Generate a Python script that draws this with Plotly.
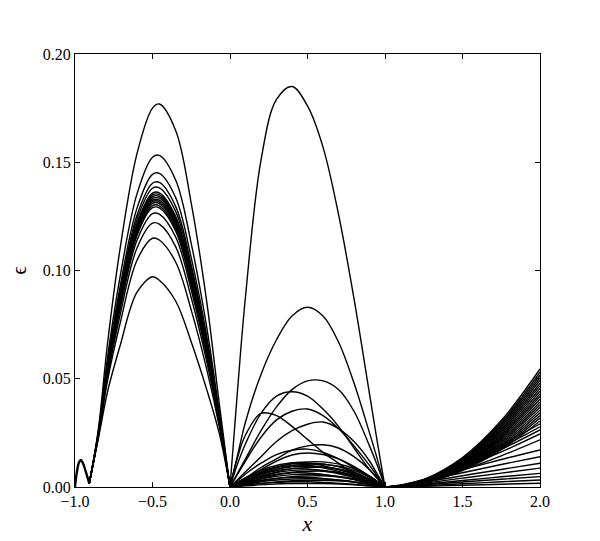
import plotly.graph_objects as go

# shared bump between x=-1 and the first node
BUMP_X = [-1.0, -0.99, -0.975, -0.963, -0.95, -0.93, -0.908]
BUMP_Y = [0.0, 0.006, 0.0112, 0.0125, 0.0112, 0.007, 0.0017]

# arcs on [-0.908, 0]
LEFT_X = [-0.908, -0.85, -0.79, -0.71, -0.6, -0.5, -0.456, -0.35, -0.25, -0.15, -0.07, 0.0]
LEFT_Y = [
    [0.0017, 0.0264, 0.0664, 0.1097, 0.1540, 0.1750, 0.1769, 0.1646, 0.1310, 0.0855, 0.0390, 0],
    [0.0017, 0.0251, 0.0599, 0.0967, 0.1354, 0.1523, 0.1532, 0.1417, 0.1124, 0.0737, 0.0349, 0],
    [0.0017, 0.0247, 0.0576, 0.0921, 0.1288, 0.1444, 0.1449, 0.1336, 0.1058, 0.0696, 0.0335, 0],
    [0.0017, 0.0244, 0.0564, 0.0898, 0.1255, 0.1403, 0.1407, 0.1295, 0.1025, 0.0675, 0.0328, 0],
    [0.0017, 0.0243, 0.0558, 0.0885, 0.1236, 0.1380, 0.1382, 0.1272, 0.1006, 0.0663, 0.0324, 0],
    [0.0017, 0.0242, 0.0551, 0.0872, 0.1217, 0.1357, 0.1359, 0.1249, 0.0987, 0.0651, 0.0319, 0],
    [0.0017, 0.0241, 0.0549, 0.0867, 0.1210, 0.1349, 0.1350, 0.1240, 0.0980, 0.0646, 0.0318, 0],
    [0.0017, 0.0241, 0.0546, 0.0862, 0.1204, 0.1341, 0.1342, 0.1232, 0.0974, 0.0642, 0.0317, 0],
    [0.0017, 0.0240, 0.0544, 0.0858, 0.1198, 0.1333, 0.1334, 0.1224, 0.0968, 0.0638, 0.0315, 0],
    [0.0017, 0.0240, 0.0542, 0.0853, 0.1191, 0.1325, 0.1325, 0.1217, 0.0961, 0.0634, 0.0314, 0],
    [0.0017, 0.0240, 0.0540, 0.0849, 0.1185, 0.1318, 0.1317, 0.1209, 0.0955, 0.0630, 0.0312, 0],
    [0.0017, 0.0239, 0.0537, 0.0844, 0.1178, 0.1310, 0.1309, 0.1201, 0.0948, 0.0626, 0.0311, 0],
    [0.0017, 0.0239, 0.0535, 0.0839, 0.1170, 0.1300, 0.1299, 0.1191, 0.0940, 0.0621, 0.0309, 0],
    [0.0017, 0.0238, 0.0532, 0.0833, 0.1162, 0.1290, 0.1289, 0.1181, 0.0932, 0.0616, 0.0307, 0],
    [0.0017, 0.0237, 0.0524, 0.0818, 0.1140, 0.1263, 0.1260, 0.1154, 0.0910, 0.0602, 0.0303, 0],
    [0.0017, 0.0234, 0.0511, 0.0792, 0.1104, 0.1219, 0.1214, 0.1109, 0.0874, 0.0579, 0.0295, 0],
    [0.0017, 0.0230, 0.0491, 0.0752, 0.1047, 0.1149, 0.1141, 0.1038, 0.0817, 0.0543, 0.0282, 0],
    [0.0017, 0.0220, 0.0440, 0.0650, 0.0900, 0.0971, 0.0955, 0.0858, 0.0670, 0.0450, 0.0250, 0],
]

# larger arcs on [0, 1]
MID_X = [0.0, 0.05, 0.1, 0.2, 0.3, 0.4, 0.5, 0.6, 0.7, 0.8, 0.9, 0.95, 1.0]
MID_Y = [
    [0, 0.046, 0.088, 0.151, 0.179, 0.185, 0.176, 0.157, 0.126, 0.087, 0.043, 0.021, 0],
    [0, 0.015, 0.030, 0.052, 0.068, 0.079, 0.083, 0.079, 0.067, 0.048, 0.025, 0.013, 0],
    [0, 0.0065, 0.013, 0.026, 0.037, 0.045, 0.049, 0.049, 0.045, 0.035, 0.019, 0.010, 0],
    [0, 0.011, 0.020, 0.034, 0.042, 0.044, 0.042, 0.036, 0.028, 0.018, 0.008, 0.004, 0],
    [0, 0.006, 0.012, 0.023, 0.031, 0.035, 0.036, 0.033, 0.027, 0.019, 0.010, 0.005, 0],
    [0, 0.014, 0.024, 0.034, 0.033, 0.028, 0.022, 0.016, 0.011, 0.006, 0.003, 0.0015, 0],
    [0, 0.0035, 0.007, 0.014, 0.021, 0.026, 0.029, 0.030, 0.027, 0.021, 0.012, 0.006, 0],
    [0, 0.002, 0.004, 0.009, 0.013, 0.017, 0.019, 0.0195, 0.018, 0.014, 0.008, 0.004, 0],
    [0, 0.003, 0.006, 0.011, 0.015, 0.017, 0.0175, 0.016, 0.013, 0.009, 0.005, 0.0025, 0],
    [0, 0.002, 0.004, 0.008, 0.012, 0.0148, 0.0157, 0.015, 0.013, 0.0095, 0.005, 0.0025, 0],
]

# dense band of small arcs on [0, 1]
BAND_X = [0.0, 0.1, 0.25, 0.4, 0.5, 0.6, 0.75, 0.9, 1.0]
BAND_Y = [
    [0, 0.0033, 0.0077, 0.0109, 0.0116, 0.0116, 0.0097, 0.0049, 0],
    [0, 0.0043, 0.0090, 0.0112, 0.0111, 0.0099, 0.0070, 0.0029, 0],
    [0, 0.0036, 0.0083, 0.0107, 0.0110, 0.0107, 0.0083, 0.0036, 0],
    [0, 0.0030, 0.0070, 0.0099, 0.0105, 0.0105, 0.0088, 0.0045, 0],
    [0, 0.0038, 0.0081, 0.0100, 0.0099, 0.0089, 0.0063, 0.0026, 0],
    [0, 0.0032, 0.0072, 0.0093, 0.0096, 0.0093, 0.0072, 0.0032, 0],
    [0, 0.0025, 0.0060, 0.0085, 0.0090, 0.0091, 0.0076, 0.0038, 0],
    [0, 0.0032, 0.0068, 0.0085, 0.0083, 0.0075, 0.0053, 0.0022, 0],
    [0, 0.0026, 0.0059, 0.0077, 0.0079, 0.0077, 0.0059, 0.0026, 0],
    [0, 0.0020, 0.0048, 0.0068, 0.0072, 0.0073, 0.0061, 0.0031, 0],
    [0, 0.0025, 0.0053, 0.0066, 0.0065, 0.0058, 0.0041, 0.0017, 0],
    [0, 0.0019, 0.0044, 0.0057, 0.0059, 0.0057, 0.0044, 0.0019, 0],
    [0, 0.0015, 0.0034, 0.0048, 0.0051, 0.0052, 0.0043, 0.0022, 0],
    [0, 0.0017, 0.0036, 0.0045, 0.0044, 0.0040, 0.0028, 0.0012, 0],
    [0, 0.0013, 0.0029, 0.0037, 0.0038, 0.0037, 0.0029, 0.0013, 0],
    [0, 0.0009, 0.0020, 0.0029, 0.0031, 0.0031, 0.0026, 0.0013, 0],
    [0, 0.0009, 0.0019, 0.0024, 0.0024, 0.0021, 0.0015, 0.0006, 0],
    [0, 0.0005, 0.0012, 0.0016, 0.0016, 0.0016, 0.0012, 0.0005, 0],
]

# growth beyond x=1
RIGHT_X = [1.0, 1.1, 1.25, 1.5, 1.75, 2.0]
RIGHT_Y = [
    [0, 0.0005, 0.0034, 0.0136, 0.0307, 0.0545],
    [0, 0.0005, 0.0033, 0.0133, 0.0298, 0.0530],
    [0, 0.0005, 0.0032, 0.0129, 0.0291, 0.0517],
    [0, 0.0005, 0.0032, 0.0126, 0.0284, 0.0505],
    [0, 0.0005, 0.0031, 0.0123, 0.0277, 0.0493],
    [0, 0.0005, 0.0030, 0.0120, 0.0270, 0.0480],
    [0, 0.0005, 0.0029, 0.0117, 0.0263, 0.0468],
    [0, 0.0005, 0.0028, 0.0114, 0.0256, 0.0455],
    [0, 0.0004, 0.0028, 0.0111, 0.0249, 0.0443],
    [0, 0.0004, 0.0027, 0.0108, 0.0242, 0.0430],
    [0, 0.0004, 0.0026, 0.0105, 0.0235, 0.0418],
    [0, 0.0004, 0.0025, 0.0101, 0.0228, 0.0405],
    [0, 0.0004, 0.0025, 0.0098, 0.0221, 0.0393],
    [0, 0.0004, 0.0024, 0.0095, 0.0214, 0.0380],
    [0, 0.0004, 0.0023, 0.0092, 0.0207, 0.0368],
    [0, 0.0004, 0.0022, 0.0089, 0.0200, 0.0355],
    [0, 0.0003, 0.0021, 0.0086, 0.0193, 0.0343],
    [0, 0.0003, 0.0021, 0.0083, 0.0186, 0.0330],
    [0, 0.0003, 0.0020, 0.0080, 0.0179, 0.0318],
    [0, 0.0003, 0.0019, 0.0076, 0.0172, 0.0305],
    [0, 0.0007, 0.0035, 0.0105, 0.0193, 0.0292],
    [0, 0.0007, 0.0033, 0.0100, 0.0183, 0.0278],
    [0, 0.0007, 0.0032, 0.0095, 0.0174, 0.0264],
    [0, 0.0006, 0.0029, 0.0088, 0.0162, 0.0245],
    [0, 0.0005, 0.0026, 0.0078, 0.0144, 0.0218],
    [0, 0.0009, 0.0034, 0.0080, 0.0127, 0.0171],
    [0, 0.0007, 0.0028, 0.0066, 0.0104, 0.0140],
    [0, 0.0006, 0.0022, 0.0052, 0.0081, 0.0110],
    [0, 0.0004, 0.0017, 0.0041, 0.0064, 0.0087],
    [0, 0.0003, 0.0013, 0.0030, 0.0047, 0.0063],
    [0, 0.0002, 0.0010, 0.0023, 0.0036, 0.0048],
    [0, 0.0002, 0.0006, 0.0015, 0.0024, 0.0032],
    [0, 0.0001, 0.0003, 0.0008, 0.0013, 0.0017],
]

X_TICKS = [-1.0, -0.5, 0.0, 0.5, 1.0, 1.5, 2.0]
Y_TICKS = [0.0, 0.05, 0.10, 0.15, 0.20]

FONT = "Liberation Serif"
LINE_W = 1.4

fig = go.Figure()


def add_curve(xs, ys, width=LINE_W):
    fig.add_trace(go.Scatter(
        x=xs, y=ys, mode="lines",
        line=dict(color="black", width=width, shape="spline", smoothing=1.0),
        showlegend=False, hoverinfo="skip",
    ))


add_curve(BUMP_X, BUMP_Y, width=2.4)
for ys in LEFT_Y:
    add_curve(LEFT_X, ys)
for ys in MID_Y:
    add_curve(MID_X, ys)
for ys in BAND_Y:
    add_curve(BAND_X, ys)
for ys in RIGHT_Y:
    add_curve(RIGHT_X, ys)

axis_common = dict(
    showgrid=False, zeroline=False, automargin=False,
    showline=True, linecolor="black", linewidth=1, mirror="ticks",
    ticks="inside", ticklen=5, tickcolor="black", tickwidth=1,
    tickfont=dict(family=FONT, size=16, color="black"),
)

# page body adds an 8px offset, so the figure is a bit smaller than the window
fig.update_layout(
    width=592, height=533,
    paper_bgcolor="white", plot_bgcolor="white",
    margin=dict(l=67, r=60, t=46, b=54),
    font=dict(family=FONT, color="black"),
    xaxis=dict(
        range=[-1, 2], tickvals=X_TICKS, tickformat=".1f",
        title=dict(text="<i>x</i>", font=dict(family=FONT, size=22), standoff=6),
        **axis_common,
    ),
    yaxis=dict(
        range=[0, 0.2], tickvals=Y_TICKS, tickformat=".2f",
        title=dict(text="ϵ", font=dict(family=FONT, size=20), standoff=14),
        **axis_common,
    ),
)

fig.write_html("out.html")
